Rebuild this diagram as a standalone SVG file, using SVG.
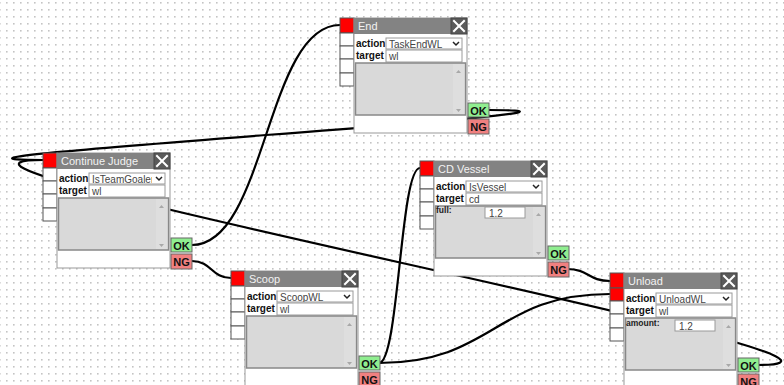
<svg xmlns="http://www.w3.org/2000/svg" width="784" height="385" viewBox="0 0 784 385">
  <defs>
    <pattern id="dots" x="6" y="9" width="7" height="7" patternUnits="userSpaceOnUse">
      <rect x="0" y="0" width="1.6" height="1.6" fill="#c4c4c4"/>
    </pattern>
    <clipPath id="selClip" clipPathUnits="userSpaceOnUse">
      <rect x="46" y="20" width="63" height="11"/>
    </clipPath>
    <style>
      .wire { fill: none; stroke: #000; stroke-width: 2.2; stroke-linecap: round; }
      .port { fill: #fff; stroke: #555; stroke-width: 1; }
      .port.on { fill: #ff0000; }
      .body { fill: #fff; stroke: #999; stroke-width: 1; }
      .head { fill: #838383; }
      .title { font-family: "Liberation Sans", Arial, sans-serif; font-size: 11px; fill: #f2f2f2; }
      .close { fill: #5a5a5a; stroke: #444; stroke-width: 1; }
      .cross { stroke: #fff; stroke-width: 2; stroke-linecap: square; }
      .lbl { font-family: "Liberation Sans", Arial, sans-serif; font-size: 10px; font-weight: bold; fill: #111; }
      .sub { font-family: "Liberation Sans", Arial, sans-serif; font-size: 8.5px; font-weight: bold; fill: #222; }
      .field { fill: #fff; stroke: #9a9a9a; stroke-width: 1; }
      .val { font-family: "Liberation Sans", Arial, sans-serif; font-size: 10px; fill: #444; }
      .chev { fill: none; stroke: #222; stroke-width: 1.5; }
      .area { fill: #d9d9d9; stroke: #888; stroke-width: 1.5; }
      .scroll { fill: #dedede; }
      .arrow { fill: #a8a8a8; }
      .ok { fill: #90ee90; stroke: #666; stroke-width: 1; }
      .ng { fill: #f08080; stroke: #666; stroke-width: 1; }
      .btn { font-family: "Liberation Sans", Arial, sans-serif; font-size: 11px; font-weight: bold; fill: #111; text-anchor: middle; }
    </style>
  </defs>

  <rect width="784" height="385" fill="#fff"/>
  <rect width="784" height="385" fill="url(#dots)"/>

  <!-- links between outputs (OK/NG) and inputs -->
  <g id="connectors">
    <path class="wire" d="M192,245 C266,245 266,25 340,25"/>
    <path class="wire" d="M489,110 C689,110 -157,160 43,160"/>
    <path class="wire" d="M192,261 C212,261 211,278 231,278"/>
    <path class="wire" d="M379,363 C399,363 400,168 420,168"/>
    <path class="wire" d="M379,363 C494,363 495,294 610,294"/>
    <path class="wire" d="M567,269 C589,269 588,281 610,281"/>
    <path class="wire" d="M757,365 C957,365 -157,160 43,160"/>
  </g>

  <!-- End -->
  <g id="node-end" transform="translate(340,18)">
    <rect class="port on" x="0" y="0" width="14" height="15"/>
    <rect class="port" x="0" y="15" width="14" height="13"/>
    <rect class="port" x="0" y="28" width="14" height="13"/>
    <rect class="port" x="0" y="41" width="14" height="14"/>
    <rect class="port" x="0" y="55" width="14" height="13"/>
    <rect class="body" x="14" y="0" width="113" height="115"/>
    <rect class="head" x="14" y="0" width="113" height="16"/>
    <text class="title" x="18" y="12">End</text>
    <rect class="close" x="111" y="0" width="16" height="16"/>
    <path class="cross" d="M114,3 L124,13 M124,3 L114,13"/>
    <text class="lbl" x="16" y="29">action</text>
    <rect class="field" x="46" y="20" width="76" height="11"/>
    <text class="val" x="49" y="29.5" clip-path="url(#selClip)">TaskEndWL</text>
    <path class="chev" d="M113,24 L116,27 L119,24"/>
    <text class="lbl" x="16" y="41">target</text>
    <rect class="field" x="46" y="32" width="76" height="12"/>
    <text class="val" x="49" y="41.5">wl</text>
    <rect class="area" x="15.5" y="45" width="110" height="52"/>
    <rect class="scroll" x="113" y="46" width="11.5" height="50"/>
    <path class="arrow" d="M116,55 L121,55 L118.5,52 Z M116,91 L121,91 L118.5,94 Z"/>
    <rect class="ok" x="128" y="85" width="21" height="14"/>
    <text class="btn" x="138.5" y="96.5">OK</text>
    <rect class="ng" x="128" y="101" width="21" height="15"/>
    <text class="btn" x="138.5" y="113">NG</text>
  </g>

  <!-- Continue Judge -->
  <g id="node-continue-judge" transform="translate(43,153)">
    <rect class="port on" x="0" y="0" width="14" height="15"/>
    <rect class="port" x="0" y="15" width="14" height="13"/>
    <rect class="port" x="0" y="28" width="14" height="13"/>
    <rect class="port" x="0" y="41" width="14" height="14"/>
    <rect class="port" x="0" y="55" width="14" height="13"/>
    <rect class="body" x="14" y="0" width="113" height="115"/>
    <rect class="head" x="14" y="0" width="113" height="16"/>
    <text class="title" x="18" y="12">Continue Judge</text>
    <rect class="close" x="111" y="0" width="16" height="16"/>
    <path class="cross" d="M114,3 L124,13 M124,3 L114,13"/>
    <text class="lbl" x="16" y="29">action</text>
    <rect class="field" x="46" y="20" width="76" height="11"/>
    <text class="val" x="49" y="29.5" clip-path="url(#selClip)">IsTeamGoaler</text>
    <path class="chev" d="M113,24 L116,27 L119,24"/>
    <text class="lbl" x="16" y="41">target</text>
    <rect class="field" x="46" y="32" width="76" height="12"/>
    <text class="val" x="49" y="41.5">wl</text>
    <rect class="area" x="15.5" y="45" width="110" height="52"/>
    <rect class="scroll" x="113" y="46" width="11.5" height="50"/>
    <path class="arrow" d="M116,55 L121,55 L118.5,52 Z M116,91 L121,91 L118.5,94 Z"/>
    <rect class="ok" x="128" y="85" width="21" height="14"/>
    <text class="btn" x="138.5" y="96.5">OK</text>
    <rect class="ng" x="128" y="101" width="21" height="15"/>
    <text class="btn" x="138.5" y="113">NG</text>
  </g>

  <!-- CD Vessel -->
  <g id="node-cd-vessel" transform="translate(420,161)">
    <rect class="port on" x="0" y="0" width="14" height="15"/>
    <rect class="port" x="0" y="15" width="14" height="13"/>
    <rect class="port" x="0" y="28" width="14" height="13"/>
    <rect class="port" x="0" y="41" width="14" height="14"/>
    <rect class="port" x="0" y="55" width="14" height="13"/>
    <rect class="body" x="14" y="0" width="113" height="115"/>
    <rect class="head" x="14" y="0" width="113" height="16"/>
    <text class="title" x="18" y="12">CD Vessel</text>
    <rect class="close" x="111" y="0" width="16" height="16"/>
    <path class="cross" d="M114,3 L124,13 M124,3 L114,13"/>
    <text class="lbl" x="16" y="29">action</text>
    <rect class="field" x="46" y="20" width="76" height="11"/>
    <text class="val" x="49" y="29.5" clip-path="url(#selClip)">IsVessel</text>
    <path class="chev" d="M113,24 L116,27 L119,24"/>
    <text class="lbl" x="16" y="41">target</text>
    <rect class="field" x="46" y="32" width="76" height="12"/>
    <text class="val" x="49" y="41.5">cd</text>
    <rect class="area" x="15.5" y="45" width="110" height="52"/>
    <rect class="scroll" x="113" y="46" width="11.5" height="50"/>
    <path class="arrow" d="M116,55 L121,55 L118.5,52 Z M116,91 L121,91 L118.5,94 Z"/>
    <text class="sub" x="16" y="52">full:</text>
    <rect class="field" x="65" y="46" width="40" height="11"/>
    <text class="val" x="69" y="55.5">1.2</text>
    <rect class="ok" x="128" y="85" width="21" height="14"/>
    <text class="btn" x="138.5" y="96.5">OK</text>
    <rect class="ng" x="128" y="101" width="21" height="15"/>
    <text class="btn" x="138.5" y="113">NG</text>
  </g>

  <!-- Scoop -->
  <g id="node-scoop" transform="translate(231,271)">
    <rect class="port on" x="0" y="0" width="14" height="15"/>
    <rect class="port" x="0" y="15" width="14" height="13"/>
    <rect class="port" x="0" y="28" width="14" height="13"/>
    <rect class="port" x="0" y="41" width="14" height="14"/>
    <rect class="port" x="0" y="55" width="14" height="13"/>
    <rect class="body" x="14" y="0" width="113" height="115"/>
    <rect class="head" x="14" y="0" width="113" height="16"/>
    <text class="title" x="18" y="12">Scoop</text>
    <rect class="close" x="111" y="0" width="16" height="16"/>
    <path class="cross" d="M114,3 L124,13 M124,3 L114,13"/>
    <text class="lbl" x="16" y="29">action</text>
    <rect class="field" x="46" y="20" width="76" height="11"/>
    <text class="val" x="49" y="29.5" clip-path="url(#selClip)">ScoopWL</text>
    <path class="chev" d="M113,24 L116,27 L119,24"/>
    <text class="lbl" x="16" y="41">target</text>
    <rect class="field" x="46" y="32" width="76" height="12"/>
    <text class="val" x="49" y="41.5">wl</text>
    <rect class="area" x="15.5" y="45" width="110" height="52"/>
    <rect class="scroll" x="113" y="46" width="11.5" height="50"/>
    <path class="arrow" d="M116,55 L121,55 L118.5,52 Z M116,91 L121,91 L118.5,94 Z"/>
    <rect class="ok" x="128" y="85" width="21" height="14"/>
    <text class="btn" x="138.5" y="96.5">OK</text>
    <rect class="ng" x="128" y="101" width="21" height="15"/>
    <text class="btn" x="138.5" y="113">NG</text>
  </g>

  <!-- Unload -->
  <g id="node-unload" transform="translate(610,273)">
    <rect class="port on" x="0" y="0" width="14" height="15"/>
    <rect class="port on" x="0" y="15" width="14" height="13"/>
    <rect class="port" x="0" y="28" width="14" height="13"/>
    <rect class="port" x="0" y="41" width="14" height="14"/>
    <rect class="port" x="0" y="55" width="14" height="13"/>
    <rect class="body" x="14" y="0" width="113" height="115"/>
    <rect class="head" x="14" y="0" width="113" height="16"/>
    <text class="title" x="18" y="12">Unload</text>
    <rect class="close" x="111" y="0" width="16" height="16"/>
    <path class="cross" d="M114,3 L124,13 M124,3 L114,13"/>
    <text class="lbl" x="16" y="29">action</text>
    <rect class="field" x="46" y="20" width="76" height="11"/>
    <text class="val" x="49" y="29.5" clip-path="url(#selClip)">UnloadWL</text>
    <path class="chev" d="M113,24 L116,27 L119,24"/>
    <text class="lbl" x="16" y="41">target</text>
    <rect class="field" x="46" y="32" width="76" height="12"/>
    <text class="val" x="49" y="41.5">wl</text>
    <rect class="area" x="15.5" y="45" width="110" height="52"/>
    <rect class="scroll" x="113" y="46" width="11.5" height="50"/>
    <path class="arrow" d="M116,55 L121,55 L118.5,52 Z M116,91 L121,91 L118.5,94 Z"/>
    <text class="sub" x="16" y="53">amount:</text>
    <rect class="field" x="65" y="47" width="40" height="11"/>
    <text class="val" x="69" y="56.5">1.2</text>
    <rect class="ok" x="128" y="85" width="21" height="14"/>
    <text class="btn" x="138.5" y="96.5">OK</text>
    <rect class="ng" x="128" y="101" width="21" height="15"/>
    <text class="btn" x="138.5" y="113">NG</text>
  </g>
</svg>
